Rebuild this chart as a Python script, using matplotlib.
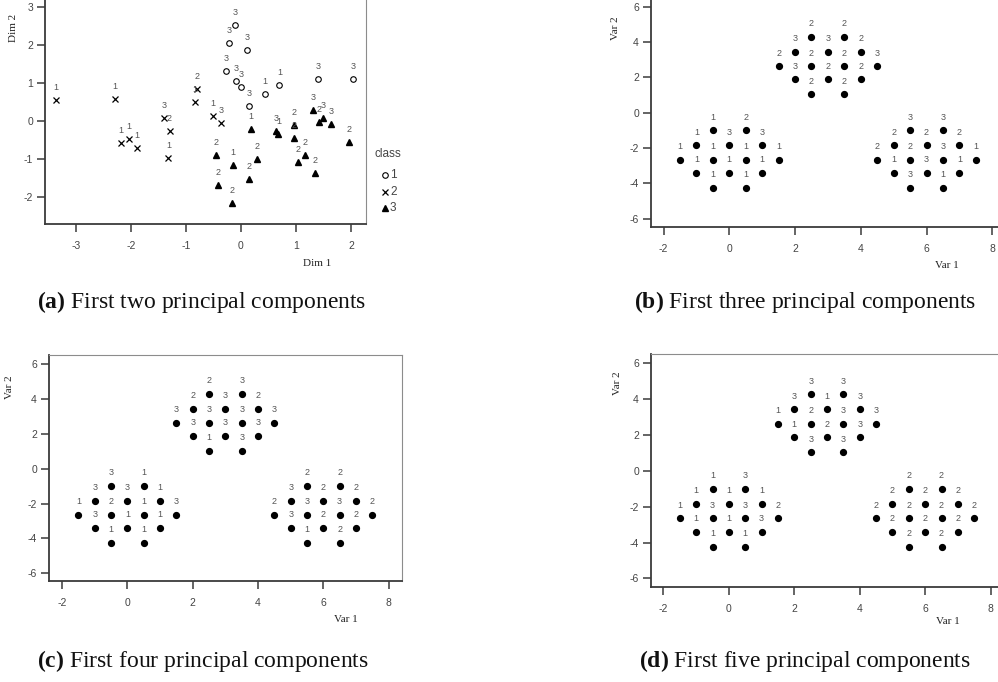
import matplotlib
matplotlib.use("Agg")
import matplotlib.pyplot as plt
from matplotlib.lines import Line2D

plt.rcParams['font.family'] = ['Liberation Sans', 'DejaVu Sans']
plt.rcParams['mathtext.fontset'] = 'custom'
plt.rcParams['mathtext.rm'] = 'Liberation Serif'
plt.rcParams['mathtext.bf'] = 'Liberation Serif:bold'
plt.rcParams['axes.unicode_minus'] = False

# ---------------- data: panel (a) ----------------
class1_x = [-0.115, -0.218, 0.109, -0.267, -0.085, 0.006, 0.145, 0.43, 0.70, 1.40, 2.04]
class1_y = [2.51, 2.06, 1.87, 1.32, 1.04, 0.89, 0.39, 0.71, 0.94, 1.11, 1.10]
class1_lab = ['3', '3', '3', '3', '3', '3', '3', '1', '1', '3', '3']

class2_x = [-3.36, -2.30, -2.19, -2.04, -1.90, -1.40, -1.30, -1.32, -0.80, -0.84, -0.51, -0.36]
class2_y = [0.55, 0.57, -0.57, -0.48, -0.70, 0.07, -0.26, -0.96, 0.83, 0.51, 0.13, -0.04]
class2_lab = ['1', '1', '1', '1', '1', '3', '2', '1', '2', '1', '1', '3']

class3_x = [0.176, 0.636, 0.68, 0.964, 0.964, 1.315, 1.42, 1.50, 1.64, 1.96,
            -0.455, -0.145, 0.285, 1.17, 1.036, 1.34, 0.14, -0.41, -0.16]
class3_y = [-0.22, -0.26, -0.33, -0.105, -0.45, 0.30, -0.02, 0.09, -0.08, -0.55,
            -0.89, -1.15, -0.99, -0.90, -1.08, -1.35, -1.51, -1.68, -2.16]
class3_lab = ['1', '3', '1', '2', '2', '3', '2', '3', '3', '2',
              '2', '1', '2', '2', '2', '2', '2', '2', '2']

# ---------------- data: panels (b)-(d), shared point grid ----------------
grid_x = [-0.5, 0.5, -1.0, 0.0, 1.0, -1.5, -0.5, 0.5, 1.5, -1.0, 0.0, 1.0, -0.5, 0.5,
          2.5, 3.5, 2.0, 3.0, 4.0, 1.5, 2.5, 3.5, 4.5, 2.0, 3.0, 4.0, 2.5, 3.5,
          5.5, 6.5, 5.0, 6.0, 7.0, 4.5, 5.5, 6.5, 7.5, 5.0, 6.0, 7.0, 5.5, 6.5]
grid_y = [-1.0, -1.0, -1.85, -1.85, -1.85, -2.65, -2.65, -2.65, -2.65, -3.4, -3.4, -3.4, -4.25, -4.25,
          4.28, 4.28, 3.43, 3.43, 3.43, 2.63, 2.63, 2.63, 2.63, 1.88, 1.88, 1.88, 1.03, 1.03,
          -1.0, -1.0, -1.85, -1.85, -1.85, -2.65, -2.65, -2.65, -2.65, -3.4, -3.4, -3.4, -4.25, -4.25]

labels_b = ['1', '2', '1', '3', '3', '1', '1', '1', '1', '1', '1', '1', '1', '1',
            '2', '2', '3', '3', '2', '2', '2', '2', '3', '3', '2', '2', '2', '2',
            '3', '3', '2', '2', '2', '2', '2', '3', '1', '1', '3', '1', '3', '1']
labels_c = ['3', '1', '3', '3', '1', '1', '2', '1', '3', '3', '1', '1', '1', '1',
            '2', '3', '2', '3', '2', '3', '3', '3', '3', '3', '3', '3', '1', '3',
            '2', '2', '3', '2', '2', '2', '3', '3', '2', '3', '2', '2', '1', '2']
labels_d = ['1', '3', '1', '1', '1', '1', '3', '3', '2', '1', '1', '3', '1', '1',
            '3', '3', '3', '1', '3', '1', '2', '3', '3', '1', '2', '3', '3', '3',
            '2', '2', '2', '2', '2', '2', '2', '2', '2', '2', '2', '2', '2', '2']

ticks_a_x = [-3, -2, -1, 0, 1, 2]
ticks_a_y = [-2, -1, 0, 1, 2, 3]
ticks_grid_x = [-2, 0, 2, 4, 6, 8]
ticks_grid_y = [-6, -4, -2, 0, 2, 4, 6]

captions = [r'$\mathbf{(a)}$ First two principal components',
            r'$\mathbf{(b)}$ First three principal components',
            r'$\mathbf{(c)}$ First four principal components',
            r'$\mathbf{(d)}$ First five principal components']

# ---------------- layout helpers ----------------
W, H = 998, 682
fig = plt.figure(figsize=(W / 100, H / 100), dpi=100)


def fx(x):
    return x / W


def fy(y):
    return 1 - y / H


def make_axes(left, top, right, bottom):
    ax = fig.add_axes([left / W, 1 - bottom / H, (right - left) / W, (bottom - top) / H])
    ax.spines['left'].set_color('#3a3a3a')
    ax.spines['bottom'].set_color('#3a3a3a')
    ax.spines['left'].set_linewidth(1.3)
    ax.spines['bottom'].set_linewidth(1.3)
    ax.spines['top'].set_color('#8c8c8c')
    ax.spines['right'].set_color('#8c8c8c')
    ax.spines['top'].set_linewidth(0.8)
    ax.spines['right'].set_linewidth(0.8)
    ax.tick_params(direction='out', length=5.5, width=1.1, color='#3a3a3a',
                   labelsize=7.5, labelcolor='#444444')
    ax.tick_params(axis='x', pad=7)
    ax.tick_params(axis='y', pad=3)
    return ax


LAB_KW = dict(textcoords='offset points', ha='center', va='center',
              fontsize=6.5, color='#555555')

# ---------------- panel (a) ----------------
axa = make_axes(45, -8.5, 366, 224)
axa.set_xlim(-3.564, 2.273)
axa.set_ylim(-2.70, 3.40)
axa.set_xticks(ticks_a_x)
axa.set_yticks(ticks_a_y)
axa.plot(class1_x, class1_y, 'o', mfc='none', mec='black', ms=4, mew=0.8, clip_on=False)
axa.plot(class2_x, class2_y, 'x', color='black', ms=4.5, mew=0.9, clip_on=False)
axa.plot(class3_x, class3_y, '^', color='black', ms=5, clip_on=False)
for xs, ys, ls in [(class1_x, class1_y, class1_lab), (class2_x, class2_y, class2_lab),
                   (class3_x, class3_y, class3_lab)]:
    for x, y, l in zip(xs, ys, ls):
        axa.annotate(l, (x, y), xytext=(0, 9), **LAB_KW)

# legend for panel (a)
fig.text(fx(388), fy(154), 'class', ha='center', va='center', fontsize=8.5, color='#444444')
leg_items = [('o', '1', 175), ('x', '2', 192), ('^', '3', 208)]
for mk, t, yy in leg_items:
    if mk == 'o':
        fig.add_artist(Line2D([fx(385)], [fy(yy)], marker='o', mfc='none', mec='black',
                              ms=4, mew=0.8, linestyle='none'))
    elif mk == 'x':
        fig.add_artist(Line2D([fx(385)], [fy(yy)], marker='x', color='black',
                              ms=4.5, mew=0.9, linestyle='none'))
    else:
        fig.add_artist(Line2D([fx(385)], [fy(yy)], marker='^', color='black',
                              ms=5, linestyle='none'))
    fig.text(fx(390), fy(yy), t, ha='left', va='center', fontsize=8.5, color='#444444')


# ---------------- panels (b)-(d) ----------------
def grid_panel(box, xlim, ylim, labels):
    ax = make_axes(*box)
    ax.set_xlim(*xlim)
    ax.set_ylim(*ylim)
    ax.set_xticks(ticks_grid_x)
    ax.set_yticks(ticks_grid_y)
    ax.plot(grid_x, grid_y, 'o', color='black', ms=4.2)
    for x, y, l in zip(grid_x, grid_y, labels):
        ax.annotate(l, (x, y), xytext=(0, 9.5), **LAB_KW)
    return ax


axb = grid_panel((650.7, -2.2, 1005.4, 226.7), (-2.39, 8.40), (-6.45, 6.5), labels_b)
axc = grid_panel((48.7, 355.3, 401.7, 580.7), (-2.41, 8.40), (-6.43, 6.51), labels_c)
axd = grid_panel((650.7, 354.3, 1003.7, 586.7), (-2.39, 8.40), (-6.46, 6.51), labels_d)

# axis titles (serif)
SERIF = dict(family='Liberation Serif', fontsize=8, color='#222222', ha='center', va='center')
fig.text(fx(13), fy(28), 'Dim 2', rotation=90, **SERIF)
fig.text(fx(317), fy(263), 'Dim 1', **SERIF)
fig.text(fx(615), fy(28), 'Var 2', rotation=90, **SERIF)
fig.text(fx(947), fy(265), 'Var 1', **SERIF)
fig.text(fx(10), fy(387), 'Var 2', rotation=90, **SERIF)
fig.text(fx(346), fy(620), 'Var 1', **SERIF)
fig.text(fx(617), fy(383), 'Var 2', rotation=90, **SERIF)
fig.text(fx(948), fy(622), 'Var 1', **SERIF)

# captions
cap_pos = [(202, 308), (805, 308), (203, 667), (805, 667)]
for (cx, cy), c in zip(cap_pos, captions):
    fig.text(fx(cx), fy(cy), c, ha='center', va='baseline', fontsize=17,
             family='Liberation Serif', color='#111111')

fig.savefig('out.png', dpi=100)
